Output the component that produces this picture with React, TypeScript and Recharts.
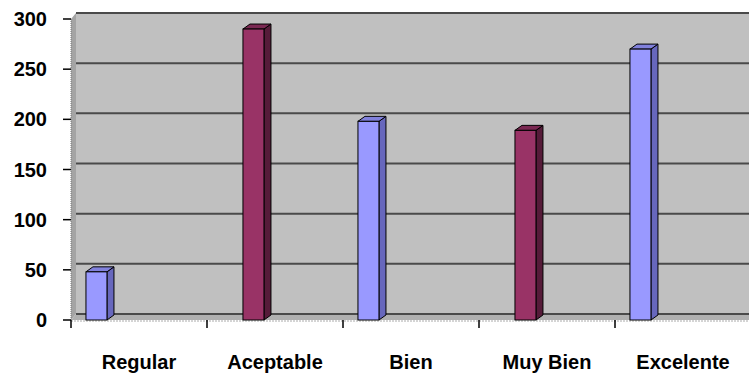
import { BarChart, Bar, XAxis, YAxis, CartesianGrid } from "recharts";

const categorias = ["Regular", "Aceptable", "Bien", "Muy Bien", "Excelente"];
// Serie 1 (azul) y Serie 2 (granate); las series 3-5 del original están vacías
const serie1: (number | null)[] = [48, null, 198, null, 270];
const serie2: (number | null)[] = [null, 290, null, 189, null];
const serie3: (number | null)[] = [null, null, null, null, null];
const serie4: (number | null)[] = [null, null, null, null, null];
const serie5: (number | null)[] = [null, null, null, null, null];
const yTicks = [0, 50, 100, 150, 200, 250, 300];

const data = categorias.map((c, i) => ({
  categoria: c,
  s1: serie1[i],
  s2: serie2[i],
  s3: serie3[i],
  s4: serie4[i],
  s5: serie5[i],
}));

const FONT = "'Liberation Sans', Arial, sans-serif";

// profundidad de la pared del fondo y de las barras
const WALL_DX = 5;
const WALL_DY = -6;
const BAR_DX = 7;
const BAR_DY = -5;

const PALETTE: Record<string, { front: string; side: string; top: string }> = {
  s1: { front: "#9999ff", side: "#6767bd", top: "#8181dc" },
  s2: { front: "#993366", side: "#561b39", top: "#7a2852" },
};

function makeBar3D(key: string) {
  const c = PALETTE[key] ?? PALETTE.s1;
  return (props: any) => {
    const { x, y, width, height } = props;
    if (!height || height <= 0 || width == null) return <g />;
    const r = x + width;
    const b = y + height;
    return (
      <g>
        <polygon
          points={`${r},${y} ${r + BAR_DX},${y + BAR_DY} ${r + BAR_DX},${b + BAR_DY} ${r},${b}`}
          fill={c.side}
          stroke="#000"
          strokeWidth={1}
        />
        <polygon
          points={`${x},${y} ${x + BAR_DX},${y + BAR_DY} ${r + BAR_DX},${y + BAR_DY} ${r},${y}`}
          fill={c.top}
          stroke="#000"
          strokeWidth={1}
        />
        <rect x={x} y={y} width={width} height={height} fill={c.front} stroke="#000" strokeWidth={1} />
      </g>
    );
  };
}

// Pared del fondo + líneas de división (desplazadas en 3D)
function WallLine(props: any) {
  const { x1, x2, y1, index, x, y, width, height } = props;
  const line = (
    <line
      x1={x1 + WALL_DX}
      y1={y1 + WALL_DY}
      x2={x2 + WALL_DX}
      y2={y1 + WALL_DY}
      stroke="#4a4a4a"
      strokeWidth={2}
    />
  );
  if (index !== 0 || y == null || height == null) return <g key={`gl-${index}`}>{line}</g>;
  const bot = y + height;
  const right = x + width;
  return (
    <g key={`gl-${index}`}>
      <rect x={x + WALL_DX} y={y + WALL_DY} width={width + 20} height={height} fill="#c0c0c0" />
      <polygon
        points={`${x},${y} ${x + WALL_DX},${y + WALL_DY} ${x + WALL_DX},${bot + WALL_DY} ${x},${bot}`}
        fill="#a4a4a4"
      />
      <polygon
        points={`${x},${bot} ${x + WALL_DX},${bot + WALL_DY} ${right + 20},${bot + WALL_DY} ${right + 20},${bot}`}
        fill="#b0b0b0"
      />
      <line x1={x} y1={y} x2={x} y2={bot} stroke="#777" strokeDasharray="1 1" />
      <line x1={x} y1={bot + 1} x2={right + 20} y2={bot + 1} stroke="#aaa" strokeDasharray="2 1" />
      {line}
    </g>
  );
}

function XTick(props: any) {
  const { x, y, payload } = props;
  const axisY = y - 35;
  const left = payload.coordinate - (payload.offset ?? 68);
  return (
    <g>
      <line x1={left} y1={axisY} x2={left} y2={axisY + 8} stroke="#000" strokeWidth={1.5} />
      <text
        x={x}
        y={y}
        dy="0.71em"
        textAnchor="middle"
        fill="#000"
        fontSize={20}
        fontWeight="bold"
        fontFamily={FONT}
      >
        {payload.value}
      </text>
    </g>
  );
}

export default function App() {
  return (
    <div
      style={{
        position: "absolute",
        left: 0,
        top: 0,
        width: 749,
        height: 374,
        overflow: "hidden",
        background: "#fff",
      }}
    >
      <BarChart
        width={760}
        height={374}
        data={data}
        margin={{ top: 19, right: 9, left: 0, bottom: 0 }}
        barCategoryGap="11%"
        barGap={0}
      >
        <CartesianGrid vertical={false} horizontal={WallLine} stroke="none" />
        <XAxis
          dataKey="categoria"
          height={54}
          tickSize={8}
          tickMargin={27}
          axisLine={false}
          tickLine={false}
          interval={0}
          tick={XTick}
        />
        <YAxis
          width={71}
          domain={[0, 300]}
          ticks={yTicks}
          interval={0}
          tickSize={8}
          tickMargin={16}
          axisLine={false}
          tickLine={{ stroke: "#000", strokeWidth: 1.5 }}
          tick={{ fill: "#000", fontSize: 20, fontWeight: "bold", fontFamily: FONT }}
        />
        <Bar dataKey="s1" name="Serie 1" fill="#9999ff" shape={makeBar3D("s1")} isAnimationActive={false} />
        <Bar dataKey="s2" name="Serie 2" fill="#993366" shape={makeBar3D("s2")} isAnimationActive={false} />
        <Bar dataKey="s3" name="Serie 3" fill="#ffffcc" isAnimationActive={false} />
        <Bar dataKey="s4" name="Serie 4" fill="#ccffff" isAnimationActive={false} />
        <Bar dataKey="s5" name="Serie 5" fill="#660066" isAnimationActive={false} />
      </BarChart>
    </div>
  );
}
